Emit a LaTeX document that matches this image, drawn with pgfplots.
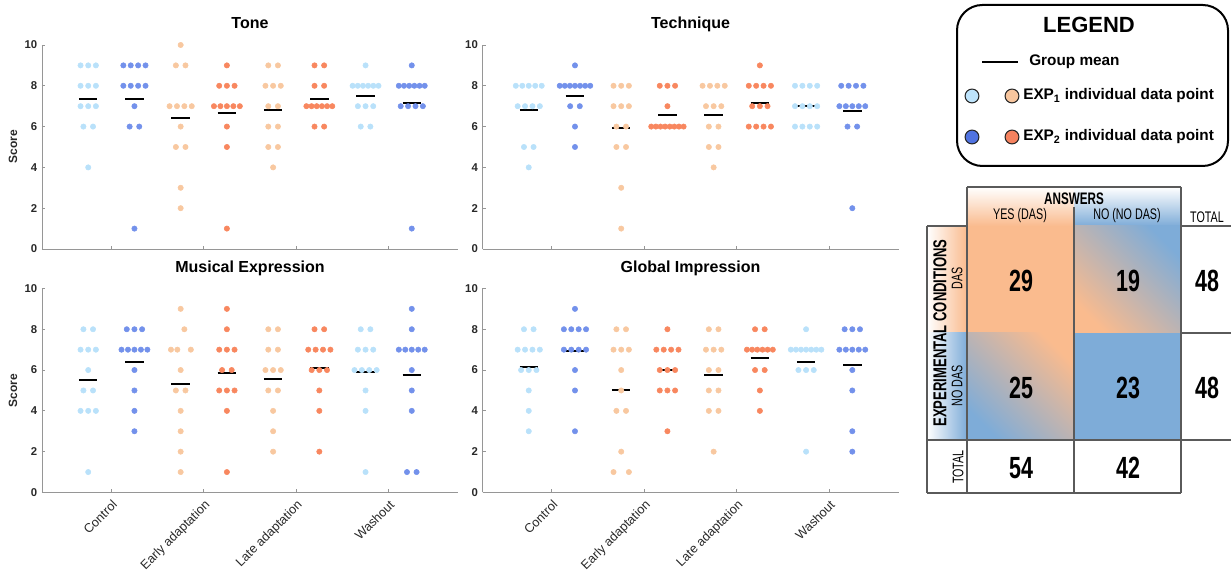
\documentclass[border=0pt]{standalone}
\usepackage{fontspec}
\setmainfont{Liberation Sans}
\newfontfamily\tabfont[FakeStretch=0.7]{Liberation Sans}
\usepackage{pgfplots}
\pgfplotsset{compat=1.18}
\definecolor{lblue}{RGB}{185,225,250}
\definecolor{dblue}{RGB}{115,145,235}
\definecolor{lorange}{RGB}{248,200,160}
\definecolor{dorange}{RGB}{248,135,95}
\definecolor{axgray}{RGB}{150,150,150}
\definecolor{tickc}{RGB}{40,40,40}
\definecolor{peach}{RGB}{250,187,142}
\definecolor{cellblue}{RGB}{126,172,216}
\definecolor{leglblue}{RGB}{190,228,252}
\definecolor{legdblue}{RGB}{80,115,225}
\definecolor{leglorange}{RGB}{248,198,158}
\definecolor{legdorange}{RGB}{245,130,95}
\definecolor{linegray}{RGB}{90,90,90}
\pgfplotsset{
  panel/.style={
    scale only axis, width=312pt, height=153pt,
    xmin=0.25, xmax=4.75, ymin=0, ymax=10,
    axis x line*=bottom, axis y line*=left,
    axis line style={-, draw=axgray, line width=0.7pt},
    xtick={1,2,3,4}, ytick={0,2,4,6,8,10},
    tick align=inside, major tick length=2.5pt,
    tick style={draw=axgray, line width=0.7pt},
    yticklabel style={font=\bfseries\fontsize{8.5}{10}\selectfont, text=tickc},
    xticklabel style={font=\fontsize{9.5}{11}\selectfont, text=tickc, rotate=45, anchor=north east},
    /pgf/number format/assume math mode=true,
    title style={at={(0.5,1)}, anchor=base, yshift=6pt, font=\bfseries\fontsize{12}{14}\selectfont},
    ylabel style={at={(axis description cs:-0.07,0.5)}, anchor=center, font=\bfseries\fontsize{9}{11}\selectfont, text=tickc},
    clip=false,
  },
  pts/.style={only marks, mark=*, mark size=2pt, color=#1, mark options={draw=none, fill=#1}, forget plot},
  mline/.style={black, line width=1.5pt, forget plot},
}
\begin{document}
\begin{tikzpicture}
\path[use as bounding box] (0,0) rectangle (923.25pt,429.75pt);

% ---------------- Tone ----------------
\begin{axis}[panel, at={(31.5pt,243pt)}, anchor=south west, title={Tone}, ylabel={Score}, xticklabels={}]
\addplot[pts=lblue, x filter/.expression={x+0.75}] coordinates {(-.083,9)(0,9)(.083,9)(-.083,8)(0,8)(.083,8)(-.083,7)(0,7)(.083,7)(-.052,6)(.052,6)(0,4)};
\addplot[pts=dblue, x filter/.expression={x+1.25}] coordinates {(-.12,9)(-.04,9)(.04,9)(.12,9)(-.12,8)(-.04,8)(.04,8)(.12,8)(0,7)(-.052,6)(.052,6)(0,1)};
\addplot[pts=lorange, x filter/.expression={x+1.75}] coordinates {(0,10)(-.052,9)(.052,9)(-.12,7)(-.04,7)(.04,7)(.12,7)(0,6)(-.052,5)(.052,5)(0,3)(0,2)};
\addplot[pts=dorange, x filter/.expression={x+2.25}] coordinates {(0,9)(-.083,8)(0,8)(.083,8)(-.14,7)(-.07,7)(0,7)(.07,7)(.14,7)(0,6)(0,5)(0,1)};
\addplot[pts=lorange, x filter/.expression={x+2.75}] coordinates {(-.052,9)(.052,9)(-.083,8)(0,8)(.083,8)(-.052,7)(.052,7)(-.052,6)(.052,6)(-.052,5)(.052,5)(0,4)};
\addplot[pts=dorange, x filter/.expression={x+3.25}] coordinates {(-.052,9)(.052,9)(-.052,8)(.052,8)(-.14,7)(-.084,7)(-.028,7)(.028,7)(.084,7)(.14,7)(-.052,6)(.052,6)};
\addplot[pts=lblue, x filter/.expression={x+3.75}] coordinates {(0,9)(-.14,8)(-.084,8)(-.028,8)(.028,8)(.084,8)(.14,8)(-.083,7)(0,7)(.083,7)(-.052,6)(.052,6)};
\addplot[pts=dblue, x filter/.expression={x+4.25}] coordinates {(0,9)(-.14,8)(-.084,8)(-.028,8)(.028,8)(.084,8)(.14,8)(-.12,7)(-.04,7)(.04,7)(.12,7)(0,1)};
\addplot[mline] coordinates {(0.65,7.333)(0.85,7.333)};
\addplot[mline] coordinates {(1.15,7.333)(1.35,7.333)};
\addplot[mline] coordinates {(1.65,6.417)(1.85,6.417)};
\addplot[mline] coordinates {(2.15,6.667)(2.35,6.667)};
\addplot[mline] coordinates {(2.65,6.833)(2.85,6.833)};
\addplot[mline] coordinates {(3.15,7.333)(3.35,7.333)};
\addplot[mline] coordinates {(3.65,7.5)(3.85,7.5)};
\addplot[mline] coordinates {(4.15,7.167)(4.35,7.167)};
\end{axis}

% ---------------- Technique ----------------
\begin{axis}[panel, at={(361.9pt,243pt)}, anchor=south west, title={Technique}, xticklabels={}]
\addplot[pts=lblue, x filter/.expression={x+0.75}] coordinates {(-.14,8)(-.07,8)(0,8)(.07,8)(.14,8)(-.12,7)(-.04,7)(.04,7)(.12,7)(-.052,5)(.052,5)(0,4)};
\addplot[pts=dblue, x filter/.expression={x+1.25}] coordinates {(0,9)(-.165,8)(-.11,8)(-.055,8)(0,8)(.055,8)(.11,8)(.165,8)(-.052,7)(.052,7)(0,6)(0,5)};
\addplot[pts=lorange, x filter/.expression={x+1.75}] coordinates {(-.083,8)(0,8)(.083,8)(-.083,7)(0,7)(.083,7)(-.052,6)(.052,6)(-.052,5)(.052,5)(0,3)(0,1)};
\addplot[pts=dorange, x filter/.expression={x+2.25}] coordinates {(-.083,8)(0,8)(.083,8)(0,7)(-.175,6)(-.125,6)(-.075,6)(-.025,6)(.025,6)(.075,6)(.125,6)(.175,6)};
\addplot[pts=lorange, x filter/.expression={x+2.75}] coordinates {(-.12,8)(-.04,8)(.04,8)(.12,8)(-.083,7)(0,7)(.083,7)(-.052,6)(.052,6)(-.052,5)(.052,5)(0,4)};
\addplot[pts=dorange, x filter/.expression={x+3.25}] coordinates {(0,9)(-.12,8)(-.04,8)(.04,8)(.12,8)(-.083,7)(0,7)(.083,7)(-.12,6)(-.04,6)(.04,6)(.12,6)};
\addplot[pts=lblue, x filter/.expression={x+3.75}] coordinates {(-.12,8)(-.04,8)(.04,8)(.12,8)(-.12,7)(-.04,7)(.04,7)(.12,7)(-.12,6)(-.04,6)(.04,6)(.12,6)};
\addplot[pts=dblue, x filter/.expression={x+4.25}] coordinates {(-.12,8)(-.04,8)(.04,8)(.12,8)(-.14,7)(-.07,7)(0,7)(.07,7)(.14,7)(-.052,6)(.052,6)(0,2)};
\addplot[mline] coordinates {(0.65,6.833)(0.85,6.833)};
\addplot[mline] coordinates {(1.15,7.5)(1.35,7.5)};
\addplot[mline] coordinates {(1.65,5.917)(1.85,5.917)};
\addplot[mline] coordinates {(2.15,6.583)(2.35,6.583)};
\addplot[mline] coordinates {(2.65,6.583)(2.85,6.583)};
\addplot[mline] coordinates {(3.15,7.167)(3.35,7.167)};
\addplot[mline] coordinates {(3.65,7.0)(3.85,7.0)};
\addplot[mline] coordinates {(4.15,6.75)(4.35,6.75)};
\end{axis}

% ---------------- Musical Expression ----------------
\begin{axis}[panel, at={(31.5pt,60.4pt)}, anchor=south west, title={Musical Expression}, ylabel={Score},
  xticklabels={Control,Early adaptation,Late adaptation,Washout}]
\addplot[pts=lblue, x filter/.expression={x+0.75}] coordinates {(-.052,8)(.052,8)(-.083,7)(0,7)(.083,7)(0,6)(-.052,5)(.052,5)(-.083,4)(0,4)(.083,4)(0,1)};
\addplot[pts=dblue, x filter/.expression={x+1.25}] coordinates {(-.083,8)(0,8)(.083,8)(-.14,7)(-.07,7)(0,7)(.07,7)(.14,7)(0,6)(0,5)(0,4)(0,3)};
\addplot[pts=lorange, x filter/.expression={x+1.75}] coordinates {(0,9)(.04,8)(-.105,7)(-.036,7)(.11,7)(0,6)(-.052,5)(.052,5)(0,4)(0,3)(0,2)(0,1)};
\addplot[pts=dorange, x filter/.expression={x+2.25}] coordinates {(0,9)(0,8)(-.083,7)(0,7)(.083,7)(-.052,6)(.052,6)(-.083,5)(0,5)(.083,5)(0,4)(0,1)};
\addplot[pts=lorange, x filter/.expression={x+2.75}] coordinates {(-.052,8)(.052,8)(-.052,7)(.052,7)(-.083,6)(0,6)(.083,6)(-.052,5)(.052,5)(0,4)(0,3)(0,2)};
\addplot[pts=dorange, x filter/.expression={x+3.25}] coordinates {(-.052,8)(.052,8)(-.12,7)(-.04,7)(.04,7)(.12,7)(-.083,6)(0,6)(.083,6)(0,5)(0,4)(0,2)};
\addplot[pts=lblue, x filter/.expression={x+3.75}] coordinates {(-.052,8)(.052,8)(-.083,7)(0,7)(.083,7)(-.12,6)(-.04,6)(.04,6)(.12,6)(0,5)(0,4)(0,1)};
\addplot[pts=dblue, x filter/.expression={x+4.25}] coordinates {(0,9)(0,8)(-.14,7)(-.07,7)(0,7)(.07,7)(.14,7)(0,6)(0,5)(0,4)(-.052,1)(.052,1)};
\addplot[mline] coordinates {(0.65,5.5)(0.85,5.5)};
\addplot[mline] coordinates {(1.15,6.417)(1.35,6.417)};
\addplot[mline] coordinates {(1.65,5.333)(1.85,5.333)};
\addplot[mline] coordinates {(2.15,5.833)(2.35,5.833)};
\addplot[mline] coordinates {(2.65,5.583)(2.85,5.583)};
\addplot[mline] coordinates {(3.15,6.083)(3.35,6.083)};
\addplot[mline] coordinates {(3.65,5.917)(3.85,5.917)};
\addplot[mline] coordinates {(4.15,5.75)(4.35,5.75)};
\end{axis}

% ---------------- Global Impression ----------------
\begin{axis}[panel, at={(361.9pt,60.4pt)}, anchor=south west, title={Global Impression},
  xticklabels={Control,Early adaptation,Late adaptation,Washout}]
\addplot[pts=lblue, x filter/.expression={x+0.75}] coordinates {(-.052,8)(.052,8)(-.12,7)(-.04,7)(.04,7)(.12,7)(-.083,6)(0,6)(.083,6)(0,5)(0,4)(0,3)};
\addplot[pts=dblue, x filter/.expression={x+1.25}] coordinates {(0,9)(-.12,8)(-.04,8)(.04,8)(.12,8)(-.12,7)(-.04,7)(.04,7)(.12,7)(0,6)(0,5)(0,3)};
\addplot[pts=lorange, x filter/.expression={x+1.75}] coordinates {(-.052,8)(.052,8)(-.083,7)(0,7)(.083,7)(0,6)(0,5)(-.052,4)(.052,4)(0,2)(-.083,1)(.083,1)};
\addplot[pts=dorange, x filter/.expression={x+2.25}] coordinates {(0,8)(-.12,7)(-.04,7)(.04,7)(.12,7)(-.083,6)(0,6)(.083,6)(-.083,5)(0,5)(.083,5)(0,3)};
\addplot[pts=lorange, x filter/.expression={x+2.75}] coordinates {(-.052,8)(.052,8)(-.083,7)(0,7)(.083,7)(-.052,6)(.052,6)(-.052,5)(.052,5)(-.052,4)(.052,4)(0,2)};
\addplot[pts=dorange, x filter/.expression={x+3.25}] coordinates {(-.052,8)(.052,8)(-.14,7)(-.084,7)(-.028,7)(.028,7)(.084,7)(.14,7)(-.052,6)(.052,6)(0,5)(0,4)};
\addplot[pts=lblue, x filter/.expression={x+3.75}] coordinates {(0,8)(-.165,7)(-.11,7)(-.055,7)(0,7)(.055,7)(.11,7)(.165,7)(-.083,6)(0,6)(.083,6)(0,2)};
\addplot[pts=dblue, x filter/.expression={x+4.25}] coordinates {(-.083,8)(0,8)(.083,8)(-.14,7)(-.07,7)(0,7)(.07,7)(.14,7)(0,6)(0,5)(0,3)(0,2)};
\addplot[mline] coordinates {(0.65,6.167)(0.85,6.167)};
\addplot[mline] coordinates {(1.15,6.917)(1.35,6.917)};
\addplot[mline] coordinates {(1.65,5.0)(1.85,5.0)};
\addplot[mline] coordinates {(2.15,6.0)(2.35,6.0)};
\addplot[mline] coordinates {(2.65,5.75)(2.85,5.75)};
\addplot[mline] coordinates {(3.15,6.583)(3.35,6.583)};
\addplot[mline] coordinates {(3.65,6.417)(3.85,6.417)};
\addplot[mline] coordinates {(4.15,6.25)(4.35,6.25)};
\end{axis}

% ---------------- Legend and table (image pixel coordinates) ----------------
\begin{scope}[shift={(0,429.75pt)}, x=0.75pt, y=-0.75pt]
  % legend
  \draw[line width=1.5pt, rounded corners=19pt] (957,5) rectangle (1228,166);
  \node[font=\bfseries\fontsize{16.5}{18}\selectfont] at (1089,25) {LEGEND};
  \draw[line width=2.2pt] (982,62) -- (1018,62);
  \node[anchor=west, font=\bfseries\fontsize{11.5}{13}\selectfont, inner sep=0pt] at (1029,62) {Group mean};
  \draw[fill=leglblue, draw=black!85, line width=0.8pt] (972,96) circle[radius=5.2pt];
  \draw[fill=leglorange, draw=black!85, line width=0.8pt] (1012,96) circle[radius=5.2pt];
  \node[anchor=west, font=\bfseries\fontsize{11.5}{13}\selectfont, inner sep=0pt] at (1023,96) {EXP\textsubscript{1} individual data point};
  \draw[fill=legdblue, draw=black!85, line width=0.8pt] (972,137) circle[radius=5.2pt];
  \draw[fill=legdorange, draw=black!85, line width=0.8pt] (1012,137) circle[radius=5.2pt];
  \node[anchor=west, font=\bfseries\fontsize{11.5}{13}\selectfont, inner sep=0pt] at (1023,137) {EXP\textsubscript{2} individual data point};

  % table fills
  \shade[top color=white, bottom color=peach] (967,187) rectangle (1074,226);
  \shade[top color=white, bottom color=cellblue] (1074,187) rectangle (1181,226);
  \shade[left color=white, right color=peach] (927,226) rectangle (967,333);
  \shade[left color=white, right color=cellblue] (927,333) rectangle (967,440);
  \fill[peach] (967,226) rectangle (1074,333);
  \fill[cellblue] (1074,333) rectangle (1181,440);
  \shade[shading=axis, top color=cellblue, bottom color=peach, shading angle=-45] (1074,226) rectangle (1181,333);
  \shade[shading=axis, top color=peach, bottom color=cellblue, shading angle=-45] (967,333) rectangle (1074,440);

  % table lines
  \begin{scope}[draw=linegray, line width=0.8pt]
    \draw (967,187) -- (1181,187);
    \draw (967,187) -- (967,493);
    \draw (1181,187) -- (1181,493);
    \draw (1074,207) -- (1074,493);
    \draw (1181,226) -- (1231,226);
    \draw (927,226) -- (967,226);
    \draw (927,226) -- (927,493);
    \draw (927,440) -- (1231,440);
    \draw (927,493) -- (1181,493);
    \draw (1181,333) -- (1231,333);
  \end{scope}

  % table text
  \node[font=\tabfont\bfseries\fontsize{12.5}{14}\selectfont] at (1074,199) {ANSWERS};
  \node[font=\tabfont\fontsize{11.5}{13}\selectfont] at (1020,216) {YES (DAS)};
  \node[font=\tabfont\fontsize{11.5}{13}\selectfont] at (1127,216) {NO (NO DAS)};
  \node[font=\tabfont\fontsize{11.5}{13}\selectfont] at (1207,217) {TOTAL};
  \node[rotate=90, font=\tabfont\bfseries\fontsize{14}{16}\selectfont] at (940,333) {EXPERIMENTAL CONDITIONS};
  \node[rotate=90, font=\tabfont\fontsize{11.5}{13}\selectfont] at (957,278) {DAS};
  \node[rotate=90, font=\tabfont\fontsize{11.5}{13}\selectfont] at (957,386) {NO DAS};
  \node[rotate=90, font=\tabfont\fontsize{11.5}{13}\selectfont] at (958,467) {TOTAL};
  \begin{scope}[every node/.style={font=\tabfont\bfseries\fontsize{23}{25}\selectfont}]
    \node at (1021,281) {29};
    \node at (1128,281) {19};
    \node at (1021,388) {25};
    \node at (1128,388) {23};
    \node at (1207,281) {48};
    \node at (1207,388) {48};
    \node at (1021,468) {54};
    \node at (1128,468) {42};
  \end{scope}
\end{scope}
\end{tikzpicture}
\end{document}
